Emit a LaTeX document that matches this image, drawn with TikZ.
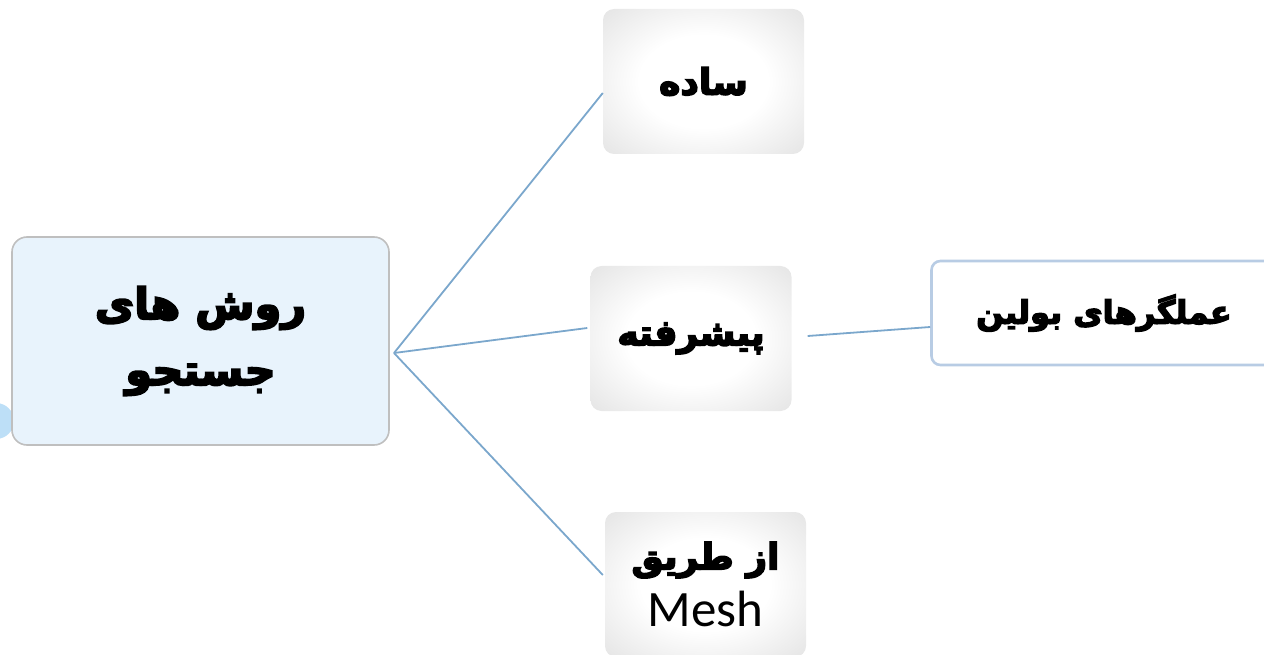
\documentclass[tikz,border=0pt]{standalone}
\usepackage{fontspec}
\TeXXeTstate=1
\newfontfamily\arabicfont[Script=Arabic,FakeBold=4.5]{DejaVu Sans Bold}
\newfontfamily\latinfont{Carlito}
\definecolor{rootfill}{HTML}{E8F3FC}
\definecolor{rootline}{HTML}{BFBFBF}
\definecolor{conn}{HTML}{7BA7CC}
\definecolor{boolline}{HTML}{B8CCE4}
\definecolor{dotblue}{HTML}{BDDFF7}
\pgfdeclareradialshading{softgray}{\pgfpoint{0bp}{0bp}}{color(0bp)=(white); color(16bp)=(white); color(50bp)=(black!18); color(72bp)=(black!26)}
\tikzset{
  rootbox/.style={draw=rootline, line width=1.6pt, fill=rootfill, rounded corners=15pt,
    minimum width=377pt, minimum height=208pt, inner sep=0pt, align=center,
    font=\arabicfont\fontsize{43}{68}\selectfont},
  graybox/.style={rounded corners=11pt, shading=softgray,
    minimum width=201pt, minimum height=145pt, inner sep=0pt, align=center,
    font=\arabicfont\fontsize{36}{44}\selectfont},
  boolbox/.style={draw=boolline, line width=2.6pt, fill=white, rounded corners=9pt,
    minimum width=345pt, minimum height=104pt, inner sep=0pt, align=center,
    font=\arabicfont\fontsize{32}{36}\selectfont},
  link/.style={draw=conn, line width=1.8pt}
}
\begin{document}
\begin{tikzpicture}[x=1pt,y=-1pt]
\useasboundingbox (0,0) rectangle (1264,655);
\begin{scope}
\clip (0,0) rectangle (1264,655);
\fill[dotblue] (-4,421) circle (18);
\node[rootbox] (root) at (200.5,341) {\beginR روش های\endR\\[-2pt]\beginR جستجو\endR};
\coordinate (hub) at (394,353);
\node[graybox] (simple) at (703.5,81.5) {\beginR ساده\endR};
\node[graybox] (adv) at (691,338.5) {\beginR پیشرفته\endR};
\node[graybox] (mesh) at (705.5,584.5) {\beginR از طریق\endR\\[12pt]{\latinfont\fontsize{51}{51}\selectfont Mesh}};
\node[boolbox] (bool) at (1104,313) {\beginR عملگرهای بولین\endR};
\draw[link] (hub) -- (simple.west |- 0,93);
\draw[link] (hub) -- ([xshift=-3pt]adv.west |- 0,328);
\draw[link] (hub) -- ([xshift=-2pt]mesh.west |- 0,575);
\draw[link] ([xshift=16pt]adv.east |- 0,336) -- (bool.west |- 0,327);
\end{scope}
\end{tikzpicture}
\end{document}
